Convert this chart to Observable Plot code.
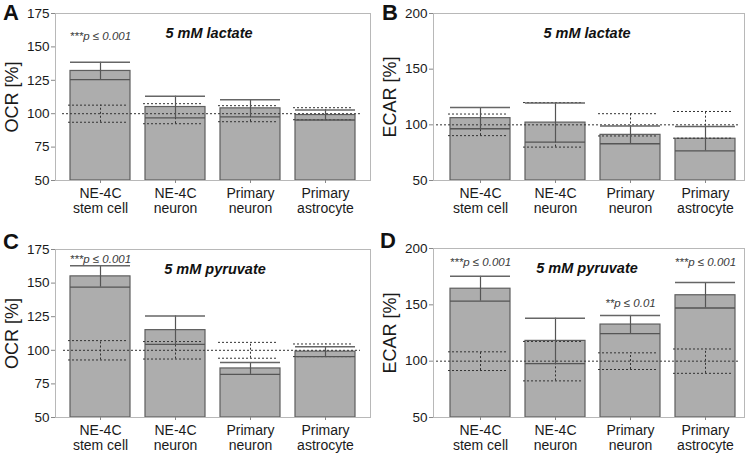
<!DOCTYPE html>
<html><head><meta charset="utf-8">
<script src="https://cdn.jsdelivr.net/npm/d3@7"></script>
<script src="https://cdn.jsdelivr.net/npm/@observablehq/plot@0.6"></script>
<style>
body{margin:0;background:#fff;font-family:"Liberation Sans",Arial,sans-serif}
#root{position:relative;width:753px;height:454px;overflow:hidden;background:#fff}
.panel{position:absolute}
.letter{position:absolute;font-weight:bold;font-size:22px;line-height:1;color:#111}
</style></head><body><div id="root"></div>
<script>
// categories
const cells = ["NE-4C\nstem cell", "NE-4C\nneuron", "Primary\nneuron", "Primary\nastrocyte"];

// A: OCR, 5 mM lactate (% of control)
const ocrLactateMean = [132, 105, 104, 99];
const ocrLactateSd = [6.5, 8.1, 6.4, 3.7];
const ocrLactateCtrlSd = [6.4, 7.5, 6.0, 4.5];
// B: ECAR, 5 mM lactate
const ecarLactateMean = [106, 102, 91, 87.5];
const ecarLactateSd = [9.5, 17.5, 8.0, 10.9];
const ecarLactateCtrlSd = [9.7, 20, 10, 12];
// C: OCR, 5 mM pyruvate
const ocrPyruvateMean = [155, 115, 86.5, 99];
const ocrPyruvateSd = [8, 10.6, 4.4, 3.7];
const ocrPyruvateCtrlSd = [7.2, 6.5, 5.9, 4.7];
// D: ECAR, 5 mM pyruvate
const ecarPyruvateMean = [164.3, 118, 132.5, 158.5];
const ecarPyruvateSd = [11, 20.2, 8.1, 11.3];
const ecarPyruvateCtrlSd = [8.3, 17.5, 7.4, 10.8];

// tick labels
const ocrTicks = [50, 75, 100, 125, 150, 175];
const ecarTicks = [50, 100, 150, 200];

// significance labels
const notesA = [{cell: cells[0], y: 155, label: "***p ≤ 0.001"}];
const notesB = [];
const notesC = [{cell: cells[0], y: 165, label: "***p ≤ 0.001"}];
const notesD = [
  {cell: cells[0], y: 184.5, label: "***p ≤ 0.001"},
  {cell: cells[2], y: 148.3, label: "**p ≤ 0.01"},
  {cell: cells[3], y: 184.5, label: "***p ≤ 0.001"}
];

const rows = (mean, sd, ctrl) => cells.map((c, i) => ({cell: c, mean: mean[i], sd: sd[i], ctrl: ctrl[i]}));

function panel(cfg) {
  const data = rows(cfg.mean, cfg.sd, cfg.ctrl);
  const y0 = cfg.yDomain[0];
  const dash = {stroke: "#333", strokeWidth: 1, strokeDasharray: "2,2"};
  const plot = Plot.plot({
    width: cfg.width, height: cfg.height,
    marginLeft: cfg.m[0], marginRight: cfg.m[1], marginTop: cfg.m[2], marginBottom: cfg.m[3],
    style: {fontFamily: "Liberation Sans, Arial, sans-serif", color: "#222", overflow: "visible", background: "transparent"},
    x: {domain: cells, paddingInner: 0.2, paddingOuter: cfg.po, align: cfg.align, axis: null},
    y: {domain: cfg.yDomain, axis: null},
    marks: [
      Plot.barY(data, {x: "cell", y1: y0, y2: "mean", fill: "#adadad", stroke: "#5e5e5e", strokeWidth: 1.2}),
      Plot.ruleY([100], {...dash, insetLeft: cfg.ins[0], insetRight: cfg.ins[1]}),
      Plot.tickY(data, {x: "cell", y: d => 100 + d.ctrl, ...dash, dx: -2}),
      Plot.tickY(data, {x: "cell", y: d => 100 - d.ctrl, ...dash, dx: -2}),
      Plot.ruleX(data, {x: "cell", y1: d => 100 - d.ctrl, y2: d => 100 + d.ctrl, ...dash}),
      Plot.ruleX(data, {x: "cell", y1: d => d.mean - d.sd, y2: d => d.mean + d.sd, stroke: "#555", strokeWidth: 1.2}),
      Plot.tickY(data, {x: "cell", y: d => d.mean + d.sd, stroke: "#666", strokeWidth: 1.5}),
      Plot.tickY(data, {x: "cell", y: d => d.mean - d.sd, stroke: "#555", strokeWidth: 1.3}),
      Plot.frame({stroke: "#b8b8b8"}),
      Plot.axisY({ticks: cfg.ticks, tickSize: 4, tickPadding: 2, fontSize: 13.5, stroke: "#888", fill: "#1a1a1a", label: null}),
      Plot.axisX({tickSize: 3, tickPadding: 3, fontSize: 14, lineHeight: 1.12, stroke: "#888", fill: "#1a1a1a", label: null}),
      Plot.text([cfg.yLabel], {frameAnchor: "left", dx: -43, rotate: -90, fontSize: 18, fill: "#1a1a1a", textAnchor: "middle"}),
      Plot.text([cfg.title], {frameAnchor: "top", dx: cfg.tdx, dy: 24, lineAnchor: "bottom", fontSize: 14.5, fontWeight: "bold", fontStyle: "italic", fill: "#111"}),
      Plot.text(cfg.notes, {x: "cell", y: "y", text: "label", lineAnchor: "bottom", fontSize: 11.5, fontStyle: "italic", fill: "#3a3a3a"})
    ]
  });
  const div = document.createElement("div");
  div.className = "panel";
  div.style.left = cfg.left + "px";
  div.style.top = cfg.top + "px";
  div.appendChild(plot);
  const letter = document.createElement("div");
  letter.className = "letter";
  letter.textContent = cfg.letter;
  letter.style.left = cfg.lx + "px";
  letter.style.top = cfg.ly + "px";
  div.appendChild(letter);
  document.getElementById("root").appendChild(div);
}

panel({letter: "A", lx: 3, ly: 2, left: 0, top: 0, width: 376, height: 227, m: [55, 6, 13, 47], po: 0.2, align: 0.5,
  mean: ocrLactateMean, sd: ocrLactateSd, ctrl: ocrLactateCtrlSd, yDomain: [50, 175], ticks: ocrTicks,
  yLabel: "OCR [%]", title: "5 mM lactate", tdx: -4, notes: notesA, ins: [7, 10]});
panel({letter: "B", lx: 6, ly: 2, left: 376, top: 0, width: 377, height: 227, m: [57, 9, 13, 47], po: 0.173, align: 0.65,
  mean: ecarLactateMean, sd: ecarLactateSd, ctrl: ecarLactateCtrlSd, yDomain: [50, 200], ticks: ecarTicks,
  yLabel: "ECAR [%]", title: "5 mM lactate", tdx: -2, notes: notesB, ins: [3, 4]});
panel({letter: "C", lx: 3, ly: 4, left: 0, top: 227, width: 376, height: 227, m: [55, 6, 22, 37], po: 0.2, align: 0.5,
  mean: ocrPyruvateMean, sd: ocrPyruvateSd, ctrl: ocrPyruvateCtrlSd, yDomain: [50, 175], ticks: ocrTicks,
  yLabel: "OCR [%]", title: "5 mM pyruvate", tdx: 2, notes: notesC, ins: [8, 10]});
panel({letter: "D", lx: 4, ly: 3, left: 376, top: 227, width: 377, height: 227, m: [57, 9, 21, 37], po: 0.173, align: 0.65,
  mean: ecarPyruvateMean, sd: ecarPyruvateSd, ctrl: ecarPyruvateCtrlSd, yDomain: [50, 200], ticks: ecarTicks,
  yLabel: "ECAR [%]", title: "5 mM pyruvate", tdx: -2, notes: notesD, ins: [3, 4]});
</script></body></html>
